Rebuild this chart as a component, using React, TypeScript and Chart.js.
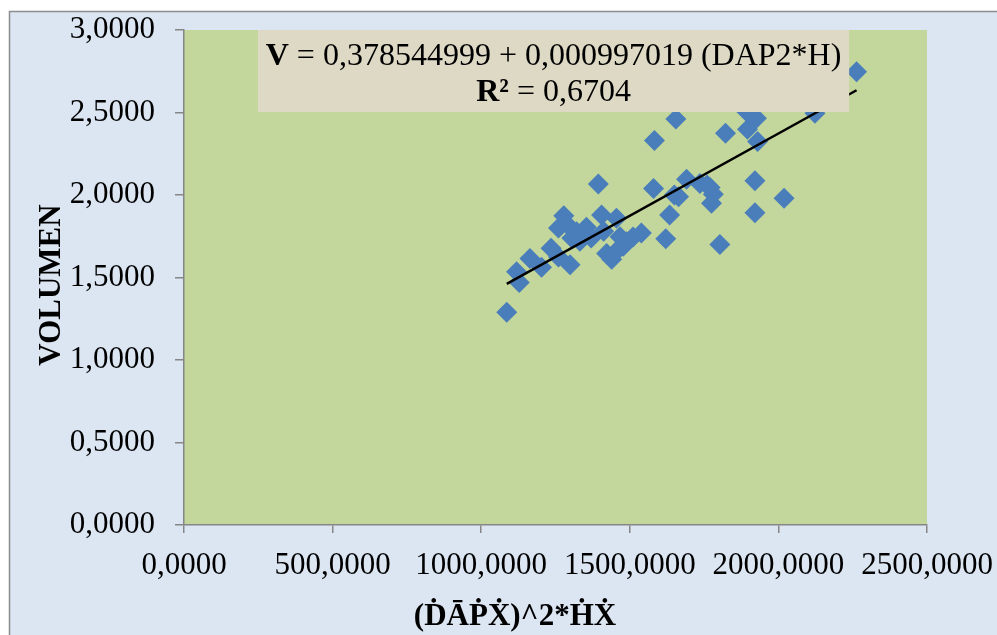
import React, { useEffect, useRef } from 'react';
import { Chart, registerables } from 'chart.js';

Chart.register(...registerables);

// DAP^2 * H values (x) and VOLUMEN values (y)
const dapHValues = [1086, 1119, 1128, 1164, 1203, 1235, 1260, 1299, 1278, 1260, 1290, 1321, 1354, 1332, 1305, 1370, 1394, 1405, 1412, 1455, 1422, 1439, 1467, 1478, 1489, 1511, 1539, 1580, 1583, 1621, 1634, 1655, 1664, 1650, 1691, 1736, 1760, 1770, 1781, 1775, 1803, 1822, 1896, 1893, 1926, 1930, 1921, 1921, 2019, 2123, 2263, 1458];
const volumeValues = [1.29, 1.535, 1.47, 1.615, 1.562, 1.677, 1.625, 1.578, 1.875, 1.8, 1.82, 1.778, 1.805, 1.72, 1.74, 1.74, 2.067, 1.879, 1.78, 1.859, 1.645, 1.61, 1.747, 1.69, 1.717, 1.745, 1.77, 2.04, 2.33, 1.735, 1.879, 2.46, 1.99, 2.0, 2.095, 2.07, 2.06, 2.045, 2.005, 1.95, 1.7, 2.374, 2.398, 2.505, 2.465, 2.325, 2.087, 1.893, 1.98, 2.495, 2.747, 1.665];

// Linear trend line end points
const trendX = [1086, 2263];
const trendY = [1.461, 2.635];

const xTickLabels = ['0,0000', '500,0000', '1000,0000', '1500,0000', '2000,0000', '2500,0000'];
const yTickLabels = ['0,0000', '0,5000', '1,0000', '1,5000', '2,0000', '2,5000', '3,0000'];

const xTitle = '(ḊĀṖẊ)^2*ḢẊ';
const yTitle = 'VOLUMEN';
const eqBold = 'V';
const eqRest = ' = 0,378544999 + 0,000997019 (DAP2*H)';
const r2Bold = 'R²';
const r2Rest = ' = 0,6704';

const FONT = "'Liberation Serif', 'Times New Roman', serif";

const decorPlugin = {
  id: 'decor',
  beforeDraw(chart: any) {
    const { ctx, chartArea } = chart;
    ctx.save();
    ctx.fillStyle = '#ffffff';
    ctx.fillRect(0, 0, chart.width, chart.height);
    ctx.fillStyle = '#DCE6F2';
    ctx.fillRect(9, 11, chart.width, chart.height);
    ctx.strokeStyle = '#8c8c8c';
    ctx.lineWidth = 1.5;
    ctx.strokeRect(9.5, 11.5, chart.width + 10, chart.height + 10);
    ctx.fillStyle = '#C3D69B';
    ctx.fillRect(chartArea.left, chartArea.top, chartArea.right - chartArea.left, chartArea.bottom - chartArea.top);
    ctx.restore();
  },
  afterDatasetsDraw(chart: any) {
    const { ctx } = chart;
    const xs = chart.scales.x;
    const ys = chart.scales.y;
    const left = xs.getPixelForValue(249);
    const right = xs.getPixelForValue(2238);
    const top = ys.getPixelForValue(3.0);
    const bottom = ys.getPixelForValue(2.503);
    ctx.save();
    ctx.fillStyle = '#DDD9C4';
    ctx.fillRect(left, top, right - left, bottom - top);
    ctx.fillStyle = '#000000';
    ctx.textBaseline = 'alphabetic';
    const cx = (left + right) / 2;
    const drawMixed = (bold: string, rest: string, y: number) => {
      ctx.font = `bold 32px ${FONT}`;
      const wb = ctx.measureText(bold).width;
      ctx.font = `32px ${FONT}`;
      const wr = ctx.measureText(rest).width;
      const x0 = cx - (wb + wr) / 2;
      ctx.textAlign = 'left';
      ctx.font = `bold 32px ${FONT}`;
      ctx.fillText(bold, x0, y);
      ctx.font = `32px ${FONT}`;
      ctx.fillText(rest, x0 + wb, y);
    };
    drawMixed(eqBold, eqRest, top + 35);
    drawMixed(r2Bold, r2Rest, top + 71);

    // axis titles
    ctx.font = `bold 31px ${FONT}`;
    ctx.textAlign = 'center';
    ctx.fillText(xTitle, 515, 625);
    ctx.translate(60, 285);
    ctx.rotate(-Math.PI / 2);
    ctx.fillText(yTitle, 0, 0);
    ctx.restore();
  },
};

export default function App() {
  const ref = useRef<HTMLCanvasElement | null>(null);
  useEffect(() => {
    if (!ref.current) return;
    const chart = new Chart(ref.current, {
      type: 'scatter',
      data: {
        datasets: [
          {
            label: 'Tendencia',
            data: trendX.map((x, i) => ({ x, y: trendY[i] })),
            showLine: true,
            borderColor: '#000000',
            borderWidth: 2.5,
            pointRadius: 0,
            order: 0,
          },
          {
            label: 'VOLUMEN',
            data: dapHValues.map((x, i) => ({ x, y: volumeValues[i] })),
            pointStyle: 'rectRot',
            pointRadius: 10.5,
            pointBackgroundColor: '#4A7EBB',
            pointBorderWidth: 0,
            borderWidth: 0,
            order: 1,
          },
        ],
      },
      options: {
        responsive: false,
        animation: false,
        layout: { padding: { left: 0, top: 30, right: 70, bottom: 0 } },
        plugins: { legend: { display: false }, tooltip: { enabled: false } },
        scales: {
          x: {
            type: 'linear',
            min: 0,
            max: 2500,
            afterFit: (s: any) => {
              s.height = 110;
              s.paddingLeft = 0;
              s.paddingRight = 0;
              s.paddingTop = 0;
              s.paddingBottom = 0;
            },
            afterBuildTicks: (s: any) => { s.ticks = xTickLabels.map((_, i) => ({ value: i * 500 })); },
            ticks: {
              autoSkip: false,
              maxRotation: 0,
              padding: 14,
              color: '#000000',
              font: { family: FONT, size: 31 },
              callback: (_v: any, i: number) => xTickLabels[i],
            },
            grid: { drawOnChartArea: false, drawTicks: true, tickLength: 8, color: '#868686', lineWidth: 1.5 },
            border: { display: true, color: '#868686', width: 1.5 },
          },
          y: {
            type: 'linear',
            min: 0,
            max: 3,
            afterFit: (s: any) => {
              s.width = 184;
              s.paddingLeft = 0;
              s.paddingRight = 0;
              s.paddingTop = 0;
              s.paddingBottom = 0;
            },
            afterBuildTicks: (s: any) => { s.ticks = yTickLabels.map((_, i) => ({ value: i * 0.5 })); },
            ticks: {
              padding: 20,
              color: '#000000',
              font: { family: FONT, size: 31 },
              callback: (_v: any, i: number) => yTickLabels[i],
            },
            grid: { drawOnChartArea: false, drawTicks: true, tickLength: 9, color: '#868686', lineWidth: 1.5 },
            border: { display: true, color: '#868686', width: 1.5 },
          },
        },
      },
      plugins: [decorPlugin],
    });
    return () => chart.destroy();
  }, []);
  return (
    <div style={{ position: 'fixed', left: 0, top: 0, width: 997, height: 635 }}>
      <canvas ref={ref} width={997} height={635} style={{ display: 'block' }} />
    </div>
  );
}
